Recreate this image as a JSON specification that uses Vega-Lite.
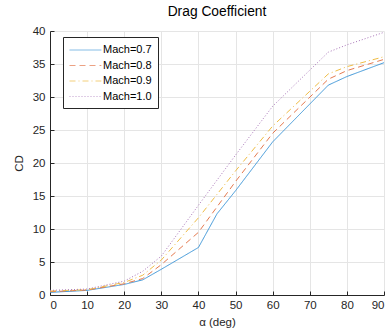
{
  "$schema": "https://vega.github.io/schema/vega-lite/v6.json",
  "width": 334,
  "height": 264,
  "autosize": {"type": "none"},
  "padding": {"left": 50, "top": 31, "right": 7, "bottom": 34},
  "background": "white",
  "title": {"text": "Drag Coefficient", "fontSize": 13.8, "fontWeight": "normal", "font": "Liberation Sans", "color": "#000000", "offset": 6},
  "config": {
    "view": {"stroke": null},
    "axis": {"labelFont": "Liberation Sans", "titleFont": "Liberation Sans", "labelFontSize": 11.5, "titleFontSize": 11.5, "labelColor": "#262626", "titleColor": "#262626", "titleFontWeight": "normal", "domainColor": "#262626", "tickColor": "#262626", "gridColor": "#e5e5e5", "gridOpacity": 1}
  },
  "data": {"values": [
    {"a": 0, "cd": 0.4, "m": "Mach=0.7"},
    {"a": 10, "cd": 0.7, "m": "Mach=0.7"},
    {"a": 20, "cd": 1.6, "m": "Mach=0.7"},
    {"a": 25, "cd": 2.3, "m": "Mach=0.7"},
    {"a": 30, "cd": 3.9, "m": "Mach=0.7"},
    {"a": 40, "cd": 7.2, "m": "Mach=0.7"},
    {"a": 45, "cd": 12.3, "m": "Mach=0.7"},
    {"a": 50, "cd": 15.8, "m": "Mach=0.7"},
    {"a": 60, "cd": 23.2, "m": "Mach=0.7"},
    {"a": 75, "cd": 31.8, "m": "Mach=0.7"},
    {"a": 80, "cd": 33.1, "m": "Mach=0.7"},
    {"a": 90, "cd": 35.2, "m": "Mach=0.7"},
    {"a": 0, "cd": 0.5, "m": "Mach=0.8"},
    {"a": 10, "cd": 0.75, "m": "Mach=0.8"},
    {"a": 20, "cd": 1.7, "m": "Mach=0.8"},
    {"a": 25, "cd": 2.5, "m": "Mach=0.8"},
    {"a": 30, "cd": 4.6, "m": "Mach=0.8"},
    {"a": 40, "cd": 9.5, "m": "Mach=0.8"},
    {"a": 50, "cd": 17.2, "m": "Mach=0.8"},
    {"a": 60, "cd": 24.5, "m": "Mach=0.8"},
    {"a": 75, "cd": 32.7, "m": "Mach=0.8"},
    {"a": 80, "cd": 34.0, "m": "Mach=0.8"},
    {"a": 90, "cd": 35.7, "m": "Mach=0.8"},
    {"a": 0, "cd": 0.6, "m": "Mach=0.9"},
    {"a": 10, "cd": 0.8, "m": "Mach=0.9"},
    {"a": 20, "cd": 1.9, "m": "Mach=0.9"},
    {"a": 25, "cd": 3.0, "m": "Mach=0.9"},
    {"a": 30, "cd": 5.3, "m": "Mach=0.9"},
    {"a": 40, "cd": 11.7, "m": "Mach=0.9"},
    {"a": 50, "cd": 18.8, "m": "Mach=0.9"},
    {"a": 60, "cd": 25.6, "m": "Mach=0.9"},
    {"a": 75, "cd": 33.5, "m": "Mach=0.9"},
    {"a": 80, "cd": 34.6, "m": "Mach=0.9"},
    {"a": 90, "cd": 36.1, "m": "Mach=0.9"},
    {"a": 0, "cd": 0.7, "m": "Mach=1.0"},
    {"a": 10, "cd": 0.9, "m": "Mach=1.0"},
    {"a": 20, "cd": 2.1, "m": "Mach=1.0"},
    {"a": 25, "cd": 3.6, "m": "Mach=1.0"},
    {"a": 30, "cd": 5.9, "m": "Mach=1.0"},
    {"a": 40, "cd": 13.6, "m": "Mach=1.0"},
    {"a": 50, "cd": 21.2, "m": "Mach=1.0"},
    {"a": 60, "cd": 28.6, "m": "Mach=1.0"},
    {"a": 75, "cd": 36.8, "m": "Mach=1.0"},
    {"a": 80, "cd": 37.9, "m": "Mach=1.0"},
    {"a": 90, "cd": 39.8, "m": "Mach=1.0"}
  ]},
  "mark": {"type": "line", "strokeWidth": 1},
  "encoding": {
    "x": {"field": "a", "type": "quantitative", "title": "α (deg)", "scale": {"domain": [0, 90], "nice": false}, "axis": {"values": [0,10,20,30,40,50,60,70,80,90], "tickSize": -4, "labelPadding": 8, "titlePadding": 6}},
    "y": {"field": "cd", "type": "quantitative", "title": "CD", "scale": {"domain": [0, 40], "nice": false}, "axis": {"values": [0,5,10,15,20,25,30,35,40], "tickSize": -4, "labelPadding": 9, "titlePadding": 8}},
    "color": {"field": "m", "type": "nominal", "scale": {"range": ["#3d96d8", "#e57a50", "#efbd45", "#a874b8"]},
      "legend": {"title": null, "orient": "none", "legendX": 13, "legendY": 6, "symbolType": "M-1,0H3.9", "symbolSize": 169, "symbolStrokeWidth": 1, "symbolOpacity": 0.7, "labelFont": "Liberation Sans", "labelFontSize": 11, "labelColor": "#000000", "fillColor": "white", "strokeColor": "#262626", "padding": 6, "rowPadding": 3.5, "labelOffset": 20}},
    "strokeDash": {"field": "m", "type": "nominal", "scale": {"range": [[1, 0], [6, 4], [6, 3, 1, 3], [1, 2]]},
      "legend": {"title": null, "orient": "none", "legendX": 13, "legendY": 6, "symbolType": "M-1,0H3.9", "symbolSize": 169, "symbolStrokeWidth": 1, "symbolOpacity": 0.7, "labelFont": "Liberation Sans", "labelFontSize": 11, "labelColor": "#000000", "fillColor": "white", "strokeColor": "#262626", "padding": 6, "rowPadding": 3.5, "labelOffset": 20}}
  }
}
